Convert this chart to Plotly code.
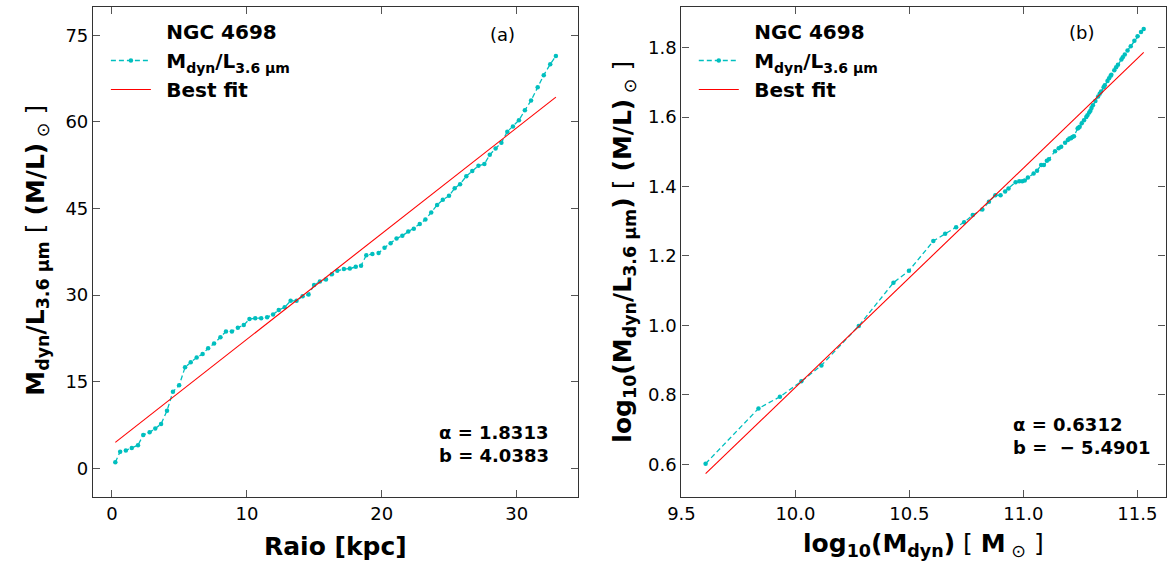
import plotly.graph_objects as go

# ---------------- data ----------------
R_kpc = [0.25, 0.61, 1.03, 1.47, 1.93, 2.32, 2.79, 3.21, 3.64, 4.08,
         4.52, 4.98, 5.42, 5.84, 6.28, 6.72, 7.13, 7.57, 8.04, 8.45,
         8.89, 9.33, 9.77, 10.19, 10.62, 11.06, 11.5, 11.94, 12.36, 12.8,
         13.24, 13.68, 14.13, 14.57, 14.98, 15.41, 15.86, 16.3, 16.7, 17.19,
         17.63, 18.07, 18.46, 18.85, 19.3, 19.76, 20.2, 20.65, 21.09, 21.52,
         21.96, 22.37, 22.81, 23.23, 23.66, 24.1, 24.52, 24.98, 25.4, 25.8,
         26.26, 26.7, 27.16, 27.6, 28.0, 28.43, 28.86, 29.3, 29.72, 30.16,
         30.6, 31.06, 31.55, 32.0, 32.48, 32.9]
ML = [1.04, 2.88, 3.1, 3.5, 4.0, 5.77, 6.23, 6.9, 7.67, 9.97,
      13.27, 14.37, 17.5, 18.36, 19.2, 19.8, 20.8, 21.6, 22.7, 23.7,
      23.7, 24.35, 24.8, 25.86, 26.0, 26.0, 26.15, 26.65, 27.4, 27.9,
      29.0, 29.0, 29.8, 30.1, 31.75, 32.35, 32.7, 33.6, 34.2, 34.5,
      34.6, 34.9, 35.1, 36.9, 37.1, 37.3, 38.2, 39.0, 39.8, 40.3,
      41.0, 41.5, 42.3, 43.1, 44.3, 45.6, 46.5, 47.2, 48.5, 49.2,
      50.6, 51.5, 52.4, 52.7, 54.3, 55.4, 56.4, 58.3, 59.2, 60.3,
      62.0, 63.7, 66.0, 68.1, 70.0, 71.4]

logM = [9.606, 9.838, 9.932, 10.026, 10.114, 10.278, 10.43, 10.498, 10.605, 10.657,
        10.705, 10.74, 10.778, 10.82, 10.849, 10.877, 10.90, 10.92, 10.935, 10.966,
        10.982, 10.995, 11.006, 11.02, 11.045, 11.06, 11.078, 11.09, 11.103, 11.112,
        11.139, 11.155, 11.166, 11.183, 11.195, 11.202, 11.209, 11.215, 11.222, 11.238,
        11.242, 11.247, 11.256, 11.266, 11.276, 11.281, 11.289, 11.294, 11.299, 11.305,
        11.316, 11.328, 11.335, 11.341, 11.352, 11.357, 11.369, 11.376, 11.383, 11.386,
        11.399, 11.407, 11.415, 11.430, 11.436, 11.445, 11.457, 11.471, 11.487, 11.501,
        11.516, 11.528]
logML = [0.602, 0.761, 0.7945, 0.839, 0.885, 0.9987, 1.123, 1.1575, 1.243, 1.264,
         1.283, 1.297, 1.318, 1.334, 1.356, 1.375, 1.375, 1.386, 1.394, 1.4126,
         1.415, 1.415, 1.4175, 1.4257, 1.4378, 1.4456, 1.462, 1.462, 1.474, 1.4786,
         1.5017, 1.51, 1.5145, 1.526, 1.534, 1.538, 1.539, 1.543, 1.545, 1.567,
         1.569, 1.572, 1.582, 1.591, 1.600, 1.605, 1.613, 1.618, 1.626, 1.634,
         1.646, 1.659, 1.667, 1.674, 1.686, 1.692, 1.704, 1.712, 1.719, 1.722,
         1.735, 1.7435, 1.751, 1.766, 1.772, 1.780, 1.792, 1.804, 1.8195, 1.833,
         1.845, 1.854]

alpha_a, b_a = 1.8313, 4.0383
alpha_b, b_b = 0.6312, -5.4901

ticks_a_x = [0, 10, 20, 30]
ticks_a_y = [0, 15, 30, 45, 60, 75]
ticks_b_x = [9.5, 10.0, 10.5, 11.0, 11.5]
ticks_b_y = [0.6, 0.8, 1.0, 1.2, 1.4, 1.6, 1.8]

fit_a_x = [R_kpc[0], R_kpc[-1]]
fit_a_y = [alpha_a * v + b_a for v in fit_a_x]
fit_b_x = [logM[0], logM[-1]]
fit_b_y = [alpha_b * v + b_b for v in fit_b_x]

# ---------------- figure ----------------
W, H = 1174, 565
FONT = "DejaVu Sans"
CYAN = "#00BFBF"
RED = "#FF0000"
NB = "\u00a0"
GAP = NB + "\u2009"

def px(x):
    return x / W

def py(y):
    return 1 - y / H

SUBPAD = "<sub>" + NB + "</sub>"
lab_ngc = GAP + "<b>NGC 4698</b>" + SUBPAD
lab_ml = GAP + "<b>M<sub>dyn</sub>/L<sub>3.6" + NB + "μm</sub></b>"
lab_fit = GAP + "<b>Best fit</b>" + SUBPAD

fig = go.Figure()

for leg, xa, ya, xs, ys, fx, fy in [
    ("legend", "x", "y", R_kpc, ML, fit_a_x, fit_a_y),
    ("legend2", "x2", "y2", logM, logML, fit_b_x, fit_b_y),
]:
    fig.add_trace(go.Scatter(x=[None], y=[None], mode="lines",
                             line=dict(color="rgba(0,0,0,0)", width=1),
                             name=lab_ngc, legend=leg,
                             xaxis=xa, yaxis=ya, hoverinfo="skip"))
    fig.add_trace(go.Scatter(x=xs, y=ys, mode="lines+markers",
                             line=dict(color=CYAN, width=1.3, dash="5px,3px"),
                             marker=dict(color=CYAN, size=4.5),
                             name=lab_ml, legend=leg, xaxis=xa, yaxis=ya))
    fig.add_trace(go.Scatter(x=fx, y=fy, mode="lines",
                             line=dict(color=RED, width=1.1),
                             name=lab_fit, legend=leg,
                             xaxis=xa, yaxis=ya))

y_dom = [py(497), py(7)]
axis_common = dict(showline=True, linecolor="#333333", linewidth=1.3,
                   mirror="ticks", ticks="inside", ticklen=7, tickwidth=1.3,
                   tickcolor="#555555", showgrid=False, zeroline=False,
                   tickfont=dict(family=FONT, size=18, color="black"))

fig.update_layout(
    width=W, height=H,
    margin=dict(l=0, r=0, t=0, b=0),
    paper_bgcolor="white", plot_bgcolor="white",
    font=dict(family=FONT, color="black"),
    xaxis=dict(domain=[px(80), px(570.7)], range=[-1.4, 34.53],
               tickvals=ticks_a_x, anchor="y", **axis_common),
    yaxis=dict(domain=y_dom, range=[-4.97, 79.9],
               tickvals=ticks_a_y, anchor="x", **axis_common),
    xaxis2=dict(domain=[px(675.5), px(1165.5)], range=[9.5, 11.624],
                tickvals=ticks_b_x, ticktext=[f"{v:.1f}" for v in ticks_b_x],
                anchor="y2", **axis_common),
    yaxis2=dict(domain=y_dom, range=[0.506, 1.917],
                tickvals=ticks_b_y, ticktext=[f"{v:.1f}" for v in ticks_b_y],
                anchor="x2", **axis_common),
    legend=dict(x=px(93), y=py(12), xanchor="left", yanchor="top",
                bgcolor="rgba(0,0,0,0)", font=dict(family=FONT, size=20),
                itemwidth=40, tracegroupgap=0),
    legend2=dict(x=px(688), y=py(12), xanchor="left", yanchor="top",
                 bgcolor="rgba(0,0,0,0)", font=dict(family=FONT, size=20),
                 itemwidth=40, tracegroupgap=0),
    showlegend=True,
)

ylab_a = ("<b>M<sub>dyn</sub>/L<sub>3.6" + NB + "μm</sub></b>" + NB + "[" + NB
          + "<b>(M/L)</b><sub>" + NB + "⊙</sub>" + NB + "]")
ylab_b = ("<b>log<sub>10</sub>(M<sub>dyn</sub>/L<sub>3.6" + NB + "μm</sub>)</b>" + NB + "[" + NB
          + "<b>(M/L)</b><sub>" + NB + "⊙</sub>" + NB + "]")
xlab_b = ("<b>log<sub>10</sub>(M<sub>dyn</sub>)</b>" + NB + "[" + NB
          + "<b>M</b><sub>" + NB + "⊙</sub>" + NB + "]")

ann = [
    dict(text="(a)", x=px(494), y=py(35), size=18, angle=0),
    dict(text="(b)", x=px(1080), y=py(32), size=18, angle=0),
    dict(text="<b>Raio [kpc]</b>", x=px(325), y=py(546), size=25, angle=0),
    dict(text=xlab_b, x=px(920), y=py(545), size=25, angle=0),
    dict(text=ylab_a, x=px(23), y=py(250), size=25, angle=-90),
    dict(text=ylab_b, x=px(617), y=py(252), size=25, angle=-90),
]
for a in ann:
    fig.add_annotation(text=a["text"], x=a["x"], y=a["y"], xref="paper", yref="paper",
                       xanchor="center", yanchor="middle", showarrow=False,
                       textangle=a["angle"], font=dict(family=FONT, size=a["size"], color="black"))

for txt, x0, y0 in [(f"<b>α = {alpha_a:.4f}</b><br><b>b = {b_a:.4f}</b>", 428, 444),
                    (f"<b>α = {alpha_b:.4f}</b><br><b>b =" + NB + NB + f"− {abs(b_b):.4f}</b>", 1009, 436)]:
    fig.add_annotation(text=txt, x=px(x0), y=py(y0), xref="paper", yref="paper",
                       xanchor="left", yanchor="middle", align="left", showarrow=False,
                       font=dict(family=FONT, size=18, color="black"))

fig.write_html("out.html")
